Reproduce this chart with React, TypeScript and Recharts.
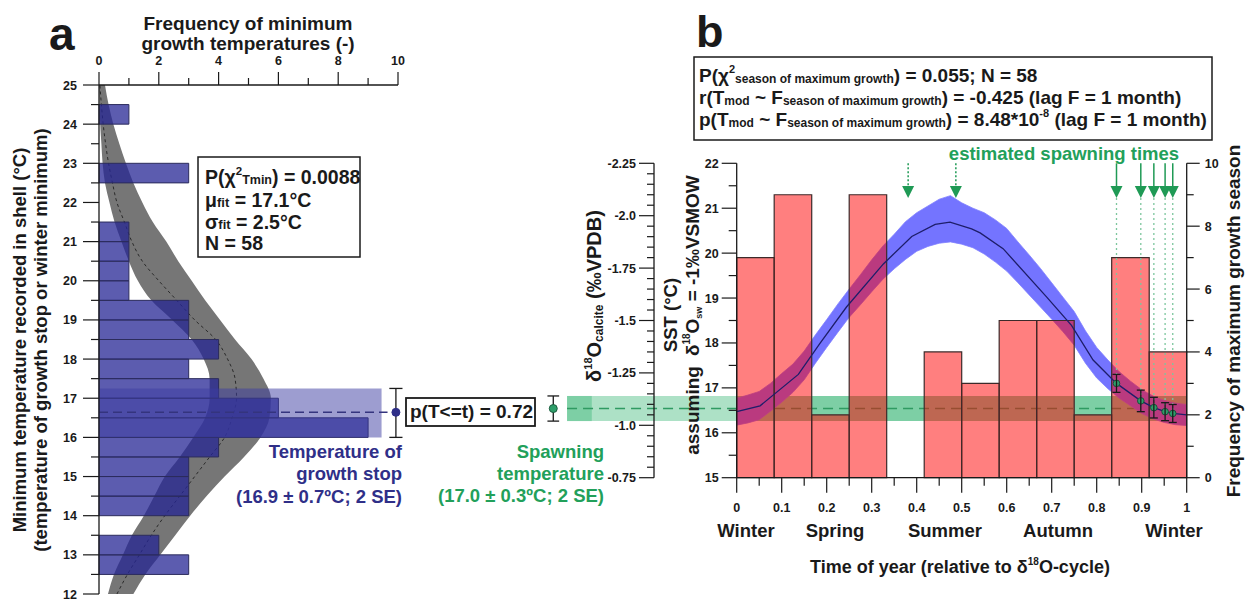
import React from 'react'
import {
  ComposedChart,
  Area,
  Line,
  Scatter,
  ErrorBar,
  XAxis,
  YAxis,
  ReferenceArea,
  ReferenceLine,
  ReferenceDot,
} from 'recharts'

const FONT = '"Liberation Sans", Arial, Helvetica, sans-serif'
const INK = '#1a1a1a'
const NAVY = '#2f2f88'
const GREEN = '#22a05a'

// ---------- panel a: minimum growth temperatures ----------
// 0.5 °C bins (lower edge) and counts, N = 58
const TMIN_BIN_LOW = [12.5, 13, 13.5, 14, 14.5, 15, 15.5, 16, 16.5, 17, 17.5, 18, 18.5, 19, 19.5, 20, 20.5, 21, 21.5, 22, 22.5, 23, 23.5, 24, 24.5]
const TMIN_COUNTS = [3, 2, 0, 3, 3, 3, 4, 9, 6, 4, 3, 4, 3, 3, 1, 1, 1, 1, 0, 0, 3, 0, 0, 1, 0]
const TMIN_BIN_WIDTH = 0.5

// fitted normal distribution (dashed) and its envelope (grey)
const FIT_TEMP = [12, 12.5, 13, 13.5, 14, 14.5, 15, 15.5, 16, 16.5, 17, 17.5, 18, 18.5, 19, 19.5, 20, 20.5, 21, 21.5, 22, 22.5, 23, 23.5, 24, 24.5, 25]
const FIT_LOW = [0.3, 0.5, 0.8, 1.1, 1.5, 1.85, 2.2, 2.7, 3.15, 3.55, 3.7, 3.7, 3.5, 3.1, 2.45, 1.75, 1.3, 1.0, 0.75, 0.52, 0.35, 0.2, 0.12, 0.08, 0.04, 0.02, 0]
const FIT_HIGH = [1.15, 1.55, 2.05, 2.55, 3.05, 3.6, 4.2, 4.85, 5.4, 5.7, 5.75, 5.5, 5.1, 4.55, 4.05, 3.55, 3.1, 2.65, 2.25, 1.8, 1.45, 1.15, 0.9, 0.68, 0.48, 0.32, 0.2]
const FIT_MID = [0.6, 0.95, 1.35, 1.75, 2.2, 2.7, 3.2, 3.7, 4.2, 4.45, 4.6, 4.55, 4.3, 3.9, 3.2, 2.6, 2.0, 1.45, 1.1, 0.85, 0.6, 0.45, 0.32, 0.22, 0.14, 0.08, 0.03]

// temperature of growth stop (mean and 2 SE range)
const STOP_MEAN = 16.64
const STOP_LO = 16.0
const STOP_HI = 17.25

// ---------- panel b: season of maximum growth ----------
const SEASON_EDGES = [0, 0.0833, 0.1667, 0.25, 0.3333, 0.4167, 0.5, 0.5833, 0.6667, 0.75, 0.8333, 0.9167, 1]
const SEASON_FREQ = [7, 9, 2, 9, 0, 4, 3, 5, 5, 2, 7, 4]

// modelled SST through the year (mean line)
const SST_MEAN_T = [0, 0.052, 0.137, 0.185, 0.244, 0.326, 0.389, 0.441, 0.474, 0.522, 0.541, 0.592, 0.689, 0.744, 0.792, 0.844, 0.898, 0.927, 0.952, 0.969, 1]
const SST_MEAN = [16.47, 16.6, 17.3, 17.99, 18.8, 19.76, 20.37, 20.64, 20.69, 20.54, 20.45, 20.1, 19.02, 18.39, 17.62, 17.1, 16.71, 16.56, 16.47, 16.43, 16.4]

// spread of the SST model runs
const BAND_T = [0, 0.025, 0.05, 0.075, 0.1, 0.125, 0.15, 0.175, 0.2, 0.225, 0.25, 0.275, 0.3, 0.325, 0.35, 0.375, 0.4, 0.425, 0.45, 0.475, 0.5, 0.525, 0.55, 0.575, 0.6, 0.625, 0.65, 0.675, 0.7, 0.725, 0.75, 0.775, 0.8, 0.825, 0.85, 0.875, 0.9, 0.925, 0.95, 0.975, 1]
const BAND_LO = [16.17, 16.22, 16.29, 16.48, 16.68, 16.9, 17.18, 17.55, 17.9, 18.24, 18.57, 18.85, 19.14, 19.42, 19.65, 19.86, 20.04, 20.15, 20.22, 20.25, 20.2, 20.12, 19.98, 19.8, 19.6, 19.34, 19.07, 18.8, 18.53, 18.25, 17.95, 17.55, 17.22, 16.98, 16.77, 16.6, 16.43, 16.31, 16.23, 16.18, 16.16]
const BAND_HI = [16.77, 16.84, 16.92, 17.1, 17.32, 17.53, 17.82, 18.18, 18.52, 18.87, 19.2, 19.52, 19.85, 20.16, 20.42, 20.7, 20.9, 21.05, 21.2, 21.28, 21.12, 21.0, 20.9, 20.74, 20.55, 20.25, 19.96, 19.66, 19.34, 19.02, 18.7, 18.27, 17.9, 17.62, 17.36, 17.15, 16.96, 16.82, 16.72, 16.66, 16.63]

// estimated spawning times (solid arrows) with 2 SE
const SPAWN_T = [0.844, 0.898, 0.927, 0.952, 0.969]
const SPAWN_SST = [17.1, 16.71, 16.56, 16.47, 16.43]
const SPAWN_ERR = [0.2, 0.24, 0.23, 0.2, 0.2]
// uncertain spawning times (dotted arrows)
const SPAWN_UNCERTAIN_T = [0.381, 0.487]

// spawning temperature band (mean and 2 SE range on SST scale)
const SPAWN_TEMP = 16.54
const SPAWN_TEMP_LO = 16.26
const SPAWN_TEMP_HI = 16.82

// ---------- ticks ----------
function range(a: number, b: number, step: number): number[] {
  const out: number[] = []
  const n = Math.round((b - a) / step)
  for (let i = 0; i <= n; i++) out.push(Math.round((a + i * step) * 1000) / 1000)
  return out
}
const TEMP_TICKS = range(12, 25, 0.5)
const FREQ_A_TICKS = range(0, 10, 1)
const T_TICKS = range(0, 1, 0.05)
const T_MAJOR = [0, 0.1, 0.2, 0.3, 0.4, 0.5, 0.6, 0.7, 0.8, 0.9, 1]
const T_MAJOR_TXT = ['0', '0.1', '0.2', '0.3', '0.4', '0.5', '0.6', '0.7', '0.8', '0.9', '1']
const SST_TICKS = range(15, 22, 0.5)
const FREQ_B_TICKS = range(0, 10, 1)
const D18O_TICKS = range(-2.25, -0.75, 0.05)
const D18O_MAJOR = [-2.25, -2, -1.75, -1.5, -1.25, -1, -0.75]
const D18O_MAJOR_TXT = ['-2.25', '-2.0', '-1.75', '-1.5', '-1.25', '-1.0', '-0.75']

const tickText = { fontFamily: FONT, fontWeight: 700, fill: INK }

function FreqATick({ x, y, payload }: any) {
  const v = payload.value
  const major = v % 2 === 0
  return (
    <g>
      <line x1={x} x2={x} y1={y} y2={y - (major ? 13 : 7)} stroke={INK} strokeWidth={1.2} />
      {major && <text x={x} y={y - 20} textAnchor="middle" fontSize={12.5} {...tickText}>{v}</text>}
    </g>
  )
}

function TempTick({ x, y, payload }: any) {
  const v = payload.value
  const major = Number.isInteger(v)
  return (
    <g>
      <line x1={x - (major ? 16 : 8)} x2={x} y1={y} y2={y} stroke={INK} strokeWidth={1.2} />
      {major && <text x={x - 22} y={y} dy="0.36em" textAnchor="end" fontSize={12.5} {...tickText}>{v}</text>}
    </g>
  )
}

function TimeTick({ x, y, payload }: any) {
  const i = T_MAJOR.indexOf(payload.value)
  const major = i >= 0
  return (
    <g>
      <line x1={x} x2={x} y1={y} y2={y + (major ? 15 : 8)} stroke={INK} strokeWidth={1.2} />
      {major && <text x={x} y={y + 34} textAnchor="middle" fontSize={12.5} {...tickText}>{T_MAJOR_TXT[i]}</text>}
    </g>
  )
}

function SstTick({ x, y, payload }: any) {
  const v = payload.value
  const major = Number.isInteger(v)
  return (
    <g>
      <line x1={x - (major ? 15 : 8)} x2={x} y1={y} y2={y} stroke={INK} strokeWidth={1.2} />
      {major && <text x={x - 18} y={y} dy="0.36em" textAnchor="end" fontSize={12.5} {...tickText}>{v}</text>}
    </g>
  )
}

function FreqBTick({ x, y, payload }: any) {
  const v = payload.value
  const major = v % 2 === 0
  return (
    <g>
      <line x1={x} x2={x + (major ? 13 : 7)} y1={y} y2={y} stroke={INK} strokeWidth={1.2} />
      {major && <text x={x + 18} y={y} dy="0.36em" textAnchor="start" fontSize={12.5} {...tickText}>{v}</text>}
    </g>
  )
}

function D18oTick({ x, y, payload }: any) {
  const i = D18O_MAJOR.indexOf(payload.value)
  const major = i >= 0
  return (
    <g>
      <line x1={x - (major ? 15 : 7)} x2={x} y1={y} y2={y} stroke={INK} strokeWidth={1.2} />
      {major && <text x={x - 18} y={y} dy="0.36em" textAnchor="end" fontSize={12.5} {...tickText}>{D18O_MAJOR_TXT[i]}</text>}
    </g>
  )
}

const axisLine = { stroke: INK, strokeWidth: 1.3 }

function arrowHead(color: string) {
  return (p: any) => (
    <polygon points={`${p.cx - 6},${p.cy - 12} ${p.cx + 6},${p.cy - 12} ${p.cx},${p.cy}`} fill={color} />
  )
}

function PanelA() {
  const fitData = FIT_TEMP.map((temp, i) => ({ temp, band: [FIT_LOW[i], FIT_HIGH[i]], mid: FIT_MID[i] }))
  return (
    <ComposedChart layout="vertical" width={420} height={603} data={fitData} margin={{ top: 45, right: 22, bottom: 9, left: 0 }}>
      <XAxis type="number" orientation="top" domain={[0, 10]} ticks={FREQ_A_TICKS} interval={0} height={40}
        tickSize={0} tickMargin={0} tick={FreqATick} tickLine={false} axisLine={axisLine} allowDataOverflow />
      <YAxis type="number" dataKey="temp" domain={[12, 25]} reversed ticks={TEMP_TICKS} interval={0} width={99}
        tickSize={0} tickMargin={0} tick={TempTick} tickLine={false} axisLine={axisLine} allowDataOverflow />

      <Area dataKey="band" type="monotone" fill="#767676" fillOpacity={1} stroke="none" isAnimationActive={false} zIndex={10} />
      <Line dataKey="mid" type="monotone" stroke="#2a2a2a" strokeWidth={1} strokeDasharray="3 3" dot={false} isAnimationActive={false} zIndex={11} />

      {TMIN_BIN_LOW.map((lo, i) =>
        TMIN_COUNTS[i] > 0 ? (
          <ReferenceArea key={'bin' + i} x1={0} x2={TMIN_COUNTS[i]} y1={lo} y2={lo + TMIN_BIN_WIDTH}
            fill="#262694" fillOpacity={0.75} stroke="#2c2c5c" strokeWidth={1} ifOverflow="visible" zIndex={20} />
        ) : null,
      )}

      {/* temperature of growth stop */}
      <ReferenceArea x1={0} x2={9.45} y1={STOP_LO} y2={STOP_HI} fill="#3c3ca2" fillOpacity={0.5} stroke="none" ifOverflow="visible" zIndex={25} />
      <ReferenceLine segment={[{ x: 0, y: STOP_MEAN }, { x: 9.65, y: STOP_MEAN }]} stroke="#34347e" strokeWidth={1.5} strokeDasharray="9 5" ifOverflow="visible" zIndex={26} />
      <ReferenceLine segment={[{ x: 9.93, y: STOP_LO }, { x: 9.93, y: STOP_HI }]} stroke={INK} strokeWidth={1.3} ifOverflow="visible" zIndex={30} />
      <ReferenceLine segment={[{ x: 9.71, y: STOP_LO }, { x: 10.15, y: STOP_LO }]} stroke={INK} strokeWidth={1.3} ifOverflow="visible" zIndex={30} />
      <ReferenceLine segment={[{ x: 9.71, y: STOP_HI }, { x: 10.15, y: STOP_HI }]} stroke={INK} strokeWidth={1.3} ifOverflow="visible" zIndex={30} />
      <ReferenceDot x={9.93} y={STOP_MEAN} r={4} fill={NAVY} stroke={NAVY} ifOverflow="visible" zIndex={31} />
    </ComposedChart>
  )
}

function PanelB() {
  const bandData = BAND_T.map((t, i) => ({ t, band: [BAND_LO[i], BAND_HI[i]] }))
  const meanData = SST_MEAN_T.map((t, i) => ({ t, sst: SST_MEAN[i] }))
  const spawnData = SPAWN_T.map((t, i) => ({ t, sst: SPAWN_SST[i], err: SPAWN_ERR[i] }))
  return (
    <ComposedChart width={720} height={603} data={bandData} margin={{ top: 163.3, right: 23.3, bottom: 85.3, left: 0 }}>
      <XAxis type="number" dataKey="t" domain={[0, 1]} ticks={T_TICKS} interval={0} height={40}
        tickSize={0} tickMargin={0} tick={TimeTick} tickLine={false} axisLine={axisLine} allowDataOverflow />
      <YAxis yAxisId="z_d18o" type="number" domain={[-2.25, -0.75]} reversed ticks={D18O_TICKS} interval={0} width={124}
        tickSize={0} tickMargin={0} tick={D18oTick} tickLine={false} axisLine={axisLine} allowDataOverflow />
      <YAxis yAxisId="a_sst" type="number" domain={[15, 22]} ticks={SST_TICKS} interval={0} width={82.7}
        tickSize={0} tickMargin={0} tick={SstTick} tickLine={false} axisLine={axisLine} allowDataOverflow />
      <YAxis yAxisId="freq" orientation="right" type="number" domain={[0, 10]} ticks={FREQ_B_TICKS} interval={0} width={40}
        tickSize={0} tickMargin={0} tick={FreqBTick} tickLine={false} axisLine={axisLine} allowDataOverflow />

      {/* spawning temperature band */}
      <ReferenceArea yAxisId="a_sst" x1={-0.377} x2={1} y1={SPAWN_TEMP_LO} y2={SPAWN_TEMP_HI} fill="#3cb878" fillOpacity={0.42} stroke="none" ifOverflow="visible" zIndex={10} />
      <ReferenceArea yAxisId="a_sst" x1={0} x2={1} y1={SPAWN_TEMP_LO} y2={SPAWN_TEMP_HI} fill="#3cb878" fillOpacity={0.42} stroke="none" ifOverflow="visible" zIndex={11} />
      <ReferenceArea yAxisId="a_sst" x1={-0.377} x2={-0.322} y1={SPAWN_TEMP_LO} y2={SPAWN_TEMP_HI} fill="#3cb878" fillOpacity={0.42} stroke="none" ifOverflow="visible" zIndex={11} />
      <ReferenceLine yAxisId="a_sst" segment={[{ x: -0.377, y: SPAWN_TEMP }, { x: 1, y: SPAWN_TEMP }]} stroke="#2f9a62" strokeWidth={1.5} strokeDasharray="10 6" ifOverflow="visible" zIndex={12} />

      {/* spawning temperature on the d18O scale */}
      <ReferenceLine yAxisId="a_sst" segment={[{ x: -0.4076, y: SPAWN_TEMP_LO }, { x: -0.4076, y: SPAWN_TEMP_HI }]} stroke={INK} strokeWidth={1.3} ifOverflow="visible" zIndex={60} />
      <ReferenceLine yAxisId="a_sst" segment={[{ x: -0.4206, y: SPAWN_TEMP_LO }, { x: -0.3946, y: SPAWN_TEMP_LO }]} stroke={INK} strokeWidth={1.3} ifOverflow="visible" zIndex={60} />
      <ReferenceLine yAxisId="a_sst" segment={[{ x: -0.4206, y: SPAWN_TEMP_HI }, { x: -0.3946, y: SPAWN_TEMP_HI }]} stroke={INK} strokeWidth={1.3} ifOverflow="visible" zIndex={60} />
      <ReferenceDot yAxisId="a_sst" x={-0.4076} y={SPAWN_TEMP} r={4} fill="#2e9e6a" stroke="#1d5e40" strokeWidth={1} ifOverflow="visible" zIndex={61} />

      {/* modelled SST spread */}
      <Area yAxisId="a_sst" dataKey="band" type="linear" fill="#7474ff" fillOpacity={1} stroke="#8080ff" strokeWidth={0.8} isAnimationActive={false} zIndex={20} />

      {/* frequency of maximum growth season */}
      {SEASON_FREQ.map((f, i) =>
        f > 0 ? (
          <ReferenceArea key={'season' + i} yAxisId="freq" x1={SEASON_EDGES[i]} x2={SEASON_EDGES[i + 1]} y1={0} y2={f}
            fill="#ff0000" fillOpacity={0.5} stroke="#3c2a2a" strokeWidth={1.2} ifOverflow="visible" zIndex={30} />
        ) : null,
      )}

      <Line yAxisId="a_sst" data={meanData} dataKey="sst" type="linear" stroke="#1e1e6a" strokeWidth={1.3} dot={false} isAnimationActive={false} zIndex={40} />

      {/* spawning-time arrows */}
      {SPAWN_T.map((t, i) => (
        <ReferenceLine key={'dl' + i} yAxisId="a_sst" segment={[{ x: t, y: 21.23 }, { x: t, y: SPAWN_SST[i] }]} stroke="#7cc69d" strokeWidth={1.3} strokeDasharray="2 3" ifOverflow="visible" zIndex={45} />
      ))}
      {SPAWN_T.map((t, i) => (
        <ReferenceLine key={'sh' + i} yAxisId="a_sst" segment={[{ x: t, y: 22 }, { x: t, y: 21.48 }]} stroke="#1f9a55" strokeWidth={1.5} ifOverflow="visible" zIndex={46} />
      ))}
      {SPAWN_T.map((t, i) => (
        <ReferenceDot key={'hd' + i} yAxisId="a_sst" x={t} y={21.23} shape={arrowHead('#1f9a55')} ifOverflow="visible" zIndex={47} />
      ))}
      {SPAWN_UNCERTAIN_T.map((t, i) => (
        <ReferenceLine key={'ush' + i} yAxisId="a_sst" segment={[{ x: t, y: 22 }, { x: t, y: 21.48 }]} stroke="#1f9a55" strokeWidth={1.5} strokeDasharray="2 2" ifOverflow="visible" zIndex={46} />
      ))}
      {SPAWN_UNCERTAIN_T.map((t, i) => (
        <ReferenceDot key={'uhd' + i} yAxisId="a_sst" x={t} y={21.23} shape={arrowHead('#1f9a55')} ifOverflow="visible" zIndex={47} />
      ))}

      <Scatter yAxisId="a_sst" data={spawnData} dataKey="sst" isAnimationActive={false} zIndex={60}
        shape={(p: any) => <circle cx={p.cx} cy={p.cy} r={3.3} fill="#2e9e6a" stroke="#1d4e38" strokeWidth={1} />}>
        <ErrorBar dataKey="err" direction="y" width={4} stroke={INK} strokeWidth={1.3} />
      </Scatter>
    </ComposedChart>
  )
}

function Annotations() {
  return (
    <svg width={1250} height={603} style={{ position: 'absolute', left: 0, top: 0, pointerEvents: 'none' }}
      fontFamily={FONT} fontWeight="bold" fill={INK}>
      <text x={49} y={50} fontSize={46}>a</text>
      <text x={696} y={47} fontSize={45}>b</text>

      {/* panel a titles */}
      <text x={248} y={30} fontSize={19} textAnchor="middle">Frequency of minimum</text>
      <text x={248} y={50} fontSize={19} textAnchor="middle">growth temperatures (-)</text>
      <text transform="translate(26,340) rotate(-90)" fontSize={18.5} textAnchor="middle">Minimum temperature recorded in shell (°C)</text>
      <text transform="translate(47,340) rotate(-90)" fontSize={18.5} textAnchor="middle">(temperature of growth stop or winter minimum)</text>

      <rect x={198} y={157} width={162} height={100} fill="none" stroke={INK} strokeWidth={1.5} />
      <text x={205} y={184} fontSize={19.5}>
        P(χ<tspan fontSize={11.5} dy={-9}>2</tspan><tspan fontSize={12.5} dy={9}>Tmin</tspan>) = 0.0088
      </text>
      <text x={205} y={207} fontSize={19.5}>μ<tspan fontSize={13}>fit</tspan> = 17.1°C</text>
      <text x={205} y={229} fontSize={19.5}>σ<tspan fontSize={13}>fit</tspan> = 2.5°C</text>
      <text x={205} y={250} fontSize={19.5}>N = 58</text>

      <text x={402} y={458} fontSize={18.5} textAnchor="end" fill={NAVY}>Temperature of</text>
      <text x={402} y={480} fontSize={18.5} textAnchor="end" fill={NAVY}>growth stop</text>
      <text x={402} y={503} fontSize={18.5} textAnchor="end" fill={NAVY}>(16.9 ± 0.7ºC; 2 SE)</text>

      <rect x={406} y={398} width={129} height={28} fill="#fff" stroke={INK} strokeWidth={1.8} />
      <text x={410} y={418} fontSize={19}>p(T&lt;=t) = 0.72</text>

      <text x={604} y={458} fontSize={18.5} textAnchor="end" fill={GREEN}>Spawning</text>
      <text x={604} y={480} fontSize={18.5} textAnchor="end" fill={GREEN}>temperature</text>
      <text x={604} y={502} fontSize={18.5} textAnchor="end" fill={GREEN}>(17.0 ± 0.3ºC; 2 SE)</text>

      {/* middle axis titles */}
      <text transform="translate(601,296) rotate(-90)" fontSize={20} textAnchor="middle">
        δ<tspan fontSize={11} dy={-9}>18</tspan><tspan dy={9}>O</tspan><tspan fontSize={12} dy={2}>calcite</tspan><tspan dy={-2}> (‰VPDB)</tspan>
      </text>
      <text transform="translate(677,315) rotate(-90)" fontSize={18.5} textAnchor="middle">SST (°C)</text>
      <text transform="translate(699,315) rotate(-90)" fontSize={19} textAnchor="middle">
        assuming<tspan dx={10}>δ</tspan><tspan fontSize={10} dy={-9}>18</tspan><tspan dy={9}>O</tspan><tspan fontSize={9} dy={3}>sw</tspan><tspan dy={-3}> = -1‰VSMOW</tspan>
      </text>

      {/* panel b */}
      <rect x={694} y={57} width={518} height={83} fill="none" stroke={INK} strokeWidth={1.5} />
      <text x={699} y={82} fontSize={19}>
        P(χ<tspan fontSize={11} dy={-9}>2</tspan><tspan fontSize={12} dy={10}>season of maximum growth</tspan><tspan dy={-1}>) = 0.055; N = 58</tspan>
      </text>
      <text x={699} y={104} fontSize={19}>
        r(T<tspan fontSize={12} dy={1}>mod</tspan><tspan dy={-1}> ~ F</tspan><tspan fontSize={12} dy={1}>season of maximum growth</tspan><tspan dy={-1}>) = -0.425 (lag F = 1 month)</tspan>
      </text>
      <text x={699} y={126} fontSize={19}>
        p(T<tspan fontSize={12} dy={1}>mod</tspan><tspan dy={-1}> ~ F</tspan><tspan fontSize={12} dy={1}>season of maximum growth</tspan><tspan dy={-1}>) = 8.48*10</tspan><tspan fontSize={11} dy={-9}>-8</tspan><tspan dy={9}> (lag F = 1 month)</tspan>
      </text>

      <text x={1064} y={160} fontSize={18.5} textAnchor="middle" fill={GREEN}>estimated spawning times</text>

      <text transform="translate(1240,321) rotate(-90)" fontSize={19} textAnchor="middle">Frequency of maximum growth season</text>

      <text x={746} y={537} fontSize={18.5} textAnchor="middle">Winter</text>
      <text x={835} y={537} fontSize={18.5} textAnchor="middle">Spring</text>
      <text x={945} y={537} fontSize={18.5} textAnchor="middle">Summer</text>
      <text x={1058} y={537} fontSize={18.5} textAnchor="middle">Autumn</text>
      <text x={1174} y={537} fontSize={18.5} textAnchor="middle">Winter</text>
      <text x={960} y={573} fontSize={18} textAnchor="middle">
        Time of year (relative to δ<tspan fontSize={10} dy={-8}>18</tspan><tspan dy={8}>O-cycle)</tspan>
      </text>
    </svg>
  )
}

export default function App() {
  return (
    <div style={{ position: 'absolute', left: 0, top: 0, width: 1250, height: 603, background: '#fff', overflow: 'hidden' }}>
      <div style={{ position: 'absolute', left: 0, top: 0 }}>
        <PanelA />
      </div>
      <div style={{ position: 'absolute', left: 530, top: 0 }}>
        <PanelB />
      </div>
      <Annotations />
    </div>
  )
}
